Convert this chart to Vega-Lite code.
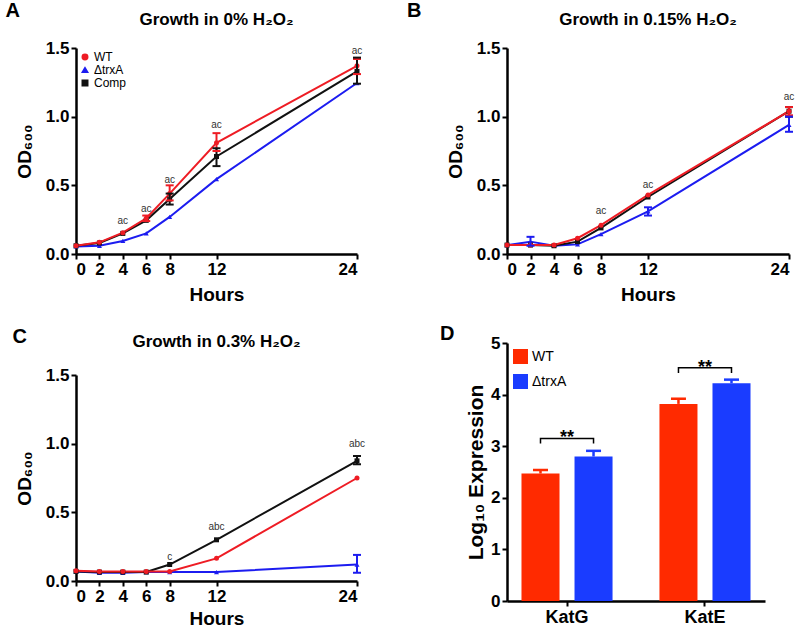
{
  "$schema": "https://vega.github.io/schema/vega-lite/v6.json",
  "padding": {"left": 5, "top": 0, "right": 0, "bottom": 0},
  "background": "white",
  "config": {
    "font": "Liberation Sans",
    "view": {"stroke": null},
    "axis": {
      "grid": false, "domainColor": "black", "domainWidth": 2.5, "tickColor": "black", "tickWidth": 2, "tickSize": 5,
      "labelFont": "Liberation Sans", "labelFontWeight": "bold", "labelFontSize": 17, "labelColor": "black", "labelPadding": 2,
      "titleFont": "Liberation Sans", "titleFontWeight": "bold", "titleFontSize": 19, "titleColor": "black"
    },
    "axisX": {"titlePadding": 8},
    "title": {"font": "Liberation Sans", "fontWeight": "bold", "fontSize": 15, "color": "black", "offset": 14},
    "legend": {"labelFont": "Liberation Sans", "labelColor": "black"}
  },
  "datasets": {
    "growth": [
      {"p": "A", "s": "ΔtrxA", "h": 0, "od": 0.055}, {"p": "A", "s": "ΔtrxA", "h": 2, "od": 0.06}, {"p": "A", "s": "ΔtrxA", "h": 4, "od": 0.095}, {"p": "A", "s": "ΔtrxA", "h": 6, "od": 0.15}, {"p": "A", "s": "ΔtrxA", "h": 8, "od": 0.27}, {"p": "A", "s": "ΔtrxA", "h": 12, "od": 0.545}, {"p": "A", "s": "ΔtrxA", "h": 24, "od": 1.245},
      {"p": "A", "s": "Comp", "h": 0, "od": 0.06}, {"p": "A", "s": "Comp", "h": 2, "od": 0.08}, {"p": "A", "s": "Comp", "h": 4, "od": 0.15}, {"p": "A", "s": "Comp", "h": 6, "od": 0.245}, {"p": "A", "s": "Comp", "h": 8, "od": 0.40}, {"p": "A", "s": "Comp", "h": 12, "od": 0.71}, {"p": "A", "s": "Comp", "h": 24, "od": 1.33},
      {"p": "A", "s": "WT", "h": 0, "od": 0.06}, {"p": "A", "s": "WT", "h": 2, "od": 0.085}, {"p": "A", "s": "WT", "h": 4, "od": 0.155}, {"p": "A", "s": "WT", "h": 6, "od": 0.26}, {"p": "A", "s": "WT", "h": 8, "od": 0.44}, {"p": "A", "s": "WT", "h": 12, "od": 0.81}, {"p": "A", "s": "WT", "h": 24, "od": 1.37},
      {"p": "B", "s": "ΔtrxA", "h": 0, "od": 0.065}, {"p": "B", "s": "ΔtrxA", "h": 2, "od": 0.09}, {"p": "B", "s": "ΔtrxA", "h": 4, "od": 0.06}, {"p": "B", "s": "ΔtrxA", "h": 6, "od": 0.07}, {"p": "B", "s": "ΔtrxA", "h": 8, "od": 0.145}, {"p": "B", "s": "ΔtrxA", "h": 12, "od": 0.31}, {"p": "B", "s": "ΔtrxA", "h": 24, "od": 0.94},
      {"p": "B", "s": "Comp", "h": 0, "od": 0.065}, {"p": "B", "s": "Comp", "h": 2, "od": 0.065}, {"p": "B", "s": "Comp", "h": 4, "od": 0.06}, {"p": "B", "s": "Comp", "h": 6, "od": 0.09}, {"p": "B", "s": "Comp", "h": 8, "od": 0.19}, {"p": "B", "s": "Comp", "h": 12, "od": 0.415}, {"p": "B", "s": "Comp", "h": 24, "od": 1.04},
      {"p": "B", "s": "WT", "h": 0, "od": 0.065}, {"p": "B", "s": "WT", "h": 2, "od": 0.065}, {"p": "B", "s": "WT", "h": 4, "od": 0.065}, {"p": "B", "s": "WT", "h": 6, "od": 0.115}, {"p": "B", "s": "WT", "h": 8, "od": 0.21}, {"p": "B", "s": "WT", "h": 12, "od": 0.43}, {"p": "B", "s": "WT", "h": 24, "od": 1.04},
      {"p": "C", "s": "ΔtrxA", "h": 0, "od": 0.07}, {"p": "C", "s": "ΔtrxA", "h": 2, "od": 0.06}, {"p": "C", "s": "ΔtrxA", "h": 4, "od": 0.06}, {"p": "C", "s": "ΔtrxA", "h": 6, "od": 0.065}, {"p": "C", "s": "ΔtrxA", "h": 8, "od": 0.065}, {"p": "C", "s": "ΔtrxA", "h": 12, "od": 0.065}, {"p": "C", "s": "ΔtrxA", "h": 24, "od": 0.12},
      {"p": "C", "s": "Comp", "h": 0, "od": 0.07}, {"p": "C", "s": "Comp", "h": 2, "od": 0.065}, {"p": "C", "s": "Comp", "h": 4, "od": 0.065}, {"p": "C", "s": "Comp", "h": 6, "od": 0.065}, {"p": "C", "s": "Comp", "h": 8, "od": 0.12}, {"p": "C", "s": "Comp", "h": 12, "od": 0.30}, {"p": "C", "s": "Comp", "h": 24, "od": 0.875},
      {"p": "C", "s": "WT", "h": 0, "od": 0.075}, {"p": "C", "s": "WT", "h": 2, "od": 0.07}, {"p": "C", "s": "WT", "h": 4, "od": 0.07}, {"p": "C", "s": "WT", "h": 6, "od": 0.07}, {"p": "C", "s": "WT", "h": 8, "od": 0.07}, {"p": "C", "s": "WT", "h": 12, "od": 0.165}, {"p": "C", "s": "WT", "h": 24, "od": 0.75}
    ],
    "err": [
      {"p": "A", "s": "WT", "h": 6, "lo": 0.24, "hi": 0.28}, {"p": "A", "s": "WT", "h": 8, "lo": 0.39, "hi": 0.50}, {"p": "A", "s": "WT", "h": 12, "lo": 0.75, "hi": 0.88}, {"p": "A", "s": "WT", "h": 24, "lo": 1.31, "hi": 1.42},
      {"p": "A", "s": "Comp", "h": 8, "lo": 0.36, "hi": 0.44}, {"p": "A", "s": "Comp", "h": 12, "lo": 0.64, "hi": 0.77}, {"p": "A", "s": "Comp", "h": 24, "lo": 1.24, "hi": 1.43},
      {"p": "B", "s": "ΔtrxA", "h": 2, "lo": 0.06, "hi": 0.125}, {"p": "B", "s": "ΔtrxA", "h": 12, "lo": 0.28, "hi": 0.34}, {"p": "B", "s": "ΔtrxA", "h": 24, "lo": 0.89, "hi": 1.0},
      {"p": "B", "s": "Comp", "h": 24, "lo": 1.0, "hi": 1.07}, {"p": "B", "s": "WT", "h": 24, "lo": 1.01, "hi": 1.07},
      {"p": "C", "s": "Comp", "h": 24, "lo": 0.85, "hi": 0.91}, {"p": "C", "s": "ΔtrxA", "h": 24, "lo": 0.06, "hi": 0.19}
    ],
    "ann": [
      {"p": "A", "h": 4, "y": 0.24, "t": "ac"}, {"p": "A", "h": 6, "y": 0.33, "t": "ac"}, {"p": "A", "h": 8, "y": 0.54, "t": "ac"}, {"p": "A", "h": 12, "y": 0.94, "t": "ac"}, {"p": "A", "h": 24, "y": 1.475, "t": "ac"},
      {"p": "B", "h": 8, "y": 0.31, "t": "ac"}, {"p": "B", "h": 12, "y": 0.50, "t": "ac"}, {"p": "B", "h": 24, "y": 1.14, "t": "ac"},
      {"p": "C", "h": 8, "y": 0.175, "t": "c"}, {"p": "C", "h": 12, "y": 0.39, "t": "abc"}, {"p": "C", "h": 24, "y": 0.995, "t": "abc"}
    ],
    "letters": [
      {"p": "A", "h": -5.4, "y": 1.77, "t": "A"}, {"p": "B", "h": -7.9, "y": 1.77, "t": "B"}, {"p": "C", "h": -4.8, "y": 1.78, "t": "C"}
    ],
    "titles": [
      {"p": "A", "h": 12, "y": 1.705, "t": "Growth in 0% H₂O₂"}, {"p": "B", "h": 12, "y": 1.705, "t": "Growth in 0.15% H₂O₂"}, {"p": "C", "h": 12, "y": 1.74, "t": "Growth in 0.3% H₂O₂"}
    ],
    "bars": [
      {"g": "KatG", "s": "WT", "v": 2.47, "hi": 2.54}, {"g": "KatG", "s": "ΔtrxA", "v": 2.80, "hi": 2.91},
      {"g": "KatE", "s": "WT", "v": 3.82, "hi": 3.92}, {"g": "KatE", "s": "ΔtrxA", "v": 4.22, "hi": 4.29}
    ],
    "brackets": [
      {"g": "KatG", "s": "WT", "y": 3.05, "o": 1}, {"g": "KatG", "s": "WT", "y": 3.15, "o": 2}, {"g": "KatG", "s": "ΔtrxA", "y": 3.15, "o": 3}, {"g": "KatG", "s": "ΔtrxA", "y": 3.05, "o": 4},
      {"g": "KatE", "s": "WT", "y": 4.42, "o": 1}, {"g": "KatE", "s": "WT", "y": 4.52, "o": 2}, {"g": "KatE", "s": "ΔtrxA", "y": 4.52, "o": 3}, {"g": "KatE", "s": "ΔtrxA", "y": 4.42, "o": 4}
    ],
    "stars": [{"g": "KatG", "y": 3.06, "t": "**"}, {"g": "KatE", "y": 4.42, "t": "**"}]
  },
  "bounds": "full",
  "spacing": 40,
  "resolve": {"scale": {"color": "independent", "shape": "independent", "x": "independent", "y": "independent"}},
  "hconcat": [
    {
      "bounds": "flush",
      "spacing": 121,
      "resolve": {"scale": {"color": "independent", "shape": "independent", "x": "independent", "y": "independent"}},
      "vconcat": [
        {
          "width": 281, "height": 206,
          "layer": [
            {"data": {"name": "growth"}, "transform": [{"filter": "datum.p === 'A'"}],
             "mark": {"type": "line", "strokeWidth": 2},
             "encoding": {
               "x": {"field": "h", "type": "quantitative", "scale": {"domain": [0, 24], "nice": false}, "axis": {"values": [0, 2, 4, 6, 8, 12, 24], "title": "Hours"}},
               "y": {"field": "od", "type": "quantitative", "scale": {"domain": [0, 1.5], "nice": false}, "axis": {"values": [0, 0.5, 1, 1.5], "format": ".1f", "title": "OD₆₀₀", "titlePadding": 11}},
               "color": {"field": "s", "type": "nominal", "scale": {"domain": ["WT", "ΔtrxA", "Comp"], "range": ["#ee1c24", "#1c1cf0", "#111111"]}, "legend": {"title": null, "orient": "top-left", "offset": 3, "padding": 0, "labelFontSize": 12, "symbolSize": 30, "rowPadding": 1, "labelOffset": 3, "symbolOpacity": 1}},
               "detail": {"field": "s"}
             }},
            {"data": {"name": "growth"}, "transform": [{"filter": "datum.p === 'A'"}],
             "mark": {"type": "point", "filled": true, "opacity": 1, "size": 25},
             "encoding": {
               "x": {"field": "h", "type": "quantitative"},
               "y": {"field": "od", "type": "quantitative"},
               "color": {"field": "s", "type": "nominal"},
               "shape": {"field": "s", "type": "nominal", "scale": {"domain": ["WT", "ΔtrxA", "Comp"], "range": ["circle", "triangle-up", "square"]}, "legend": {"title": null, "orient": "top-left"}}
             }},
            {"data": {"name": "err"}, "transform": [{"filter": "datum.p === 'A'"}],
             "mark": {"type": "rule", "strokeWidth": 2},
             "encoding": {"x": {"field": "h", "type": "quantitative"}, "y": {"field": "lo", "type": "quantitative"}, "y2": {"field": "hi"}, "color": {"field": "s", "type": "nominal"}}},
            {"data": {"name": "err"}, "transform": [{"filter": "datum.p === 'A'"}],
             "mark": {"type": "tick", "orient": "horizontal", "size": 8, "thickness": 2, "opacity": 1},
             "encoding": {"x": {"field": "h", "type": "quantitative"}, "y": {"field": "lo", "type": "quantitative"}, "color": {"field": "s", "type": "nominal"}}},
            {"data": {"name": "err"}, "transform": [{"filter": "datum.p === 'A'"}],
             "mark": {"type": "tick", "orient": "horizontal", "size": 8, "thickness": 2, "opacity": 1},
             "encoding": {"x": {"field": "h", "type": "quantitative"}, "y": {"field": "hi", "type": "quantitative"}, "color": {"field": "s", "type": "nominal"}}},
            {"data": {"name": "ann"}, "transform": [{"filter": "datum.p === 'A'"}],
             "mark": {"type": "text", "fontSize": 10, "color": "#333333", "baseline": "middle"},
             "encoding": {"x": {"field": "h", "type": "quantitative"}, "y": {"field": "y", "type": "quantitative"}, "text": {"field": "t"}}},
            {"data": {"name": "letters"}, "transform": [{"filter": "datum.p === 'A'"}],
             "mark": {"type": "text", "fontSize": 20, "fontWeight": "bold", "color": "black", "baseline": "middle"},
             "encoding": {"x": {"field": "h", "type": "quantitative"}, "y": {"field": "y", "type": "quantitative"}, "text": {"field": "t"}}},
            {"data": {"name": "titles"}, "transform": [{"filter": "datum.p === 'A'"}],
             "mark": {"type": "text", "fontSize": 17, "fontWeight": "bold", "color": "black", "baseline": "middle"},
             "encoding": {"x": {"field": "h", "type": "quantitative"}, "y": {"field": "y", "type": "quantitative"}, "text": {"field": "t"}}}
          ]
        },
        {
          "width": 281, "height": 206,
          "layer": [
            {"data": {"name": "growth"}, "transform": [{"filter": "datum.p === 'C'"}],
             "mark": {"type": "line", "strokeWidth": 2},
             "encoding": {
               "x": {"field": "h", "type": "quantitative", "scale": {"domain": [0, 24], "nice": false}, "axis": {"values": [0, 2, 4, 6, 8, 12, 24], "title": "Hours", "titlePadding": 5}},
               "y": {"field": "od", "type": "quantitative", "scale": {"domain": [0, 1.5], "nice": false}, "axis": {"values": [0, 0.5, 1, 1.5], "format": ".1f", "title": "OD₆₀₀", "titlePadding": 11}},
               "color": {"field": "s", "type": "nominal", "scale": {"domain": ["WT", "ΔtrxA", "Comp"], "range": ["#ee1c24", "#1c1cf0", "#111111"]}, "legend": null},
               "detail": {"field": "s"}
             }},
            {"data": {"name": "growth"}, "transform": [{"filter": "datum.p === 'C'"}],
             "mark": {"type": "point", "filled": true, "opacity": 1, "size": 25},
             "encoding": {
               "x": {"field": "h", "type": "quantitative"},
               "y": {"field": "od", "type": "quantitative"},
               "color": {"field": "s", "type": "nominal", "legend": null},
               "shape": {"field": "s", "type": "nominal", "scale": {"domain": ["WT", "ΔtrxA", "Comp"], "range": ["circle", "triangle-up", "square"]}, "legend": null}
             }},
            {"data": {"name": "err"}, "transform": [{"filter": "datum.p === 'C'"}],
             "mark": {"type": "rule", "strokeWidth": 2},
             "encoding": {"x": {"field": "h", "type": "quantitative"}, "y": {"field": "lo", "type": "quantitative"}, "y2": {"field": "hi"}, "color": {"field": "s", "type": "nominal", "legend": null}}},
            {"data": {"name": "err"}, "transform": [{"filter": "datum.p === 'C'"}],
             "mark": {"type": "tick", "orient": "horizontal", "size": 8, "thickness": 2, "opacity": 1},
             "encoding": {"x": {"field": "h", "type": "quantitative"}, "y": {"field": "lo", "type": "quantitative"}, "color": {"field": "s", "type": "nominal", "legend": null}}},
            {"data": {"name": "err"}, "transform": [{"filter": "datum.p === 'C'"}],
             "mark": {"type": "tick", "orient": "horizontal", "size": 8, "thickness": 2, "opacity": 1},
             "encoding": {"x": {"field": "h", "type": "quantitative"}, "y": {"field": "hi", "type": "quantitative"}, "color": {"field": "s", "type": "nominal", "legend": null}}},
            {"data": {"name": "ann"}, "transform": [{"filter": "datum.p === 'C'"}],
             "mark": {"type": "text", "fontSize": 10, "color": "#333333", "baseline": "middle"},
             "encoding": {"x": {"field": "h", "type": "quantitative"}, "y": {"field": "y", "type": "quantitative"}, "text": {"field": "t"}}},
            {"data": {"name": "letters"}, "transform": [{"filter": "datum.p === 'C'"}],
             "mark": {"type": "text", "fontSize": 20, "fontWeight": "bold", "color": "black", "baseline": "middle"},
             "encoding": {"x": {"field": "h", "type": "quantitative"}, "y": {"field": "y", "type": "quantitative"}, "text": {"field": "t"}}},
            {"data": {"name": "titles"}, "transform": [{"filter": "datum.p === 'C'"}],
             "mark": {"type": "text", "fontSize": 17, "fontWeight": "bold", "color": "black", "baseline": "middle"},
             "encoding": {"x": {"field": "h", "type": "quantitative"}, "y": {"field": "y", "type": "quantitative"}, "text": {"field": "t"}}}
          ]
        }
      ]
    },
    {
      "bounds": "flush",
      "spacing": 89,
      "resolve": {"scale": {"color": "independent", "shape": "independent", "x": "independent", "y": "independent"}},
      "vconcat": [
        {
          "width": 282, "height": 206,
          "layer": [
            {"data": {"name": "growth"}, "transform": [{"filter": "datum.p === 'B'"}],
             "mark": {"type": "line", "strokeWidth": 2},
             "encoding": {
               "x": {"field": "h", "type": "quantitative", "scale": {"domain": [0, 24], "nice": false}, "axis": {"values": [0, 2, 4, 6, 8, 12, 24], "title": "Hours"}},
               "y": {"field": "od", "type": "quantitative", "scale": {"domain": [0, 1.5], "nice": false}, "axis": {"values": [0, 0.5, 1, 1.5], "format": ".1f", "title": "OD₆₀₀", "titlePadding": 11}},
               "color": {"field": "s", "type": "nominal", "scale": {"domain": ["WT", "ΔtrxA", "Comp"], "range": ["#ee1c24", "#1c1cf0", "#111111"]}, "legend": null},
               "detail": {"field": "s"}
             }},
            {"data": {"name": "growth"}, "transform": [{"filter": "datum.p === 'B'"}],
             "mark": {"type": "point", "filled": true, "opacity": 1, "size": 25},
             "encoding": {
               "x": {"field": "h", "type": "quantitative"},
               "y": {"field": "od", "type": "quantitative"},
               "color": {"field": "s", "type": "nominal", "legend": null},
               "shape": {"field": "s", "type": "nominal", "scale": {"domain": ["WT", "ΔtrxA", "Comp"], "range": ["circle", "triangle-up", "square"]}, "legend": null}
             }},
            {"data": {"name": "err"}, "transform": [{"filter": "datum.p === 'B'"}],
             "mark": {"type": "rule", "strokeWidth": 2},
             "encoding": {"x": {"field": "h", "type": "quantitative"}, "y": {"field": "lo", "type": "quantitative"}, "y2": {"field": "hi"}, "color": {"field": "s", "type": "nominal", "legend": null}}},
            {"data": {"name": "err"}, "transform": [{"filter": "datum.p === 'B'"}],
             "mark": {"type": "tick", "orient": "horizontal", "size": 8, "thickness": 2, "opacity": 1},
             "encoding": {"x": {"field": "h", "type": "quantitative"}, "y": {"field": "lo", "type": "quantitative"}, "color": {"field": "s", "type": "nominal", "legend": null}}},
            {"data": {"name": "err"}, "transform": [{"filter": "datum.p === 'B'"}],
             "mark": {"type": "tick", "orient": "horizontal", "size": 8, "thickness": 2, "opacity": 1},
             "encoding": {"x": {"field": "h", "type": "quantitative"}, "y": {"field": "hi", "type": "quantitative"}, "color": {"field": "s", "type": "nominal", "legend": null}}},
            {"data": {"name": "ann"}, "transform": [{"filter": "datum.p === 'B'"}],
             "mark": {"type": "text", "fontSize": 10, "color": "#333333", "baseline": "middle"},
             "encoding": {"x": {"field": "h", "type": "quantitative"}, "y": {"field": "y", "type": "quantitative"}, "text": {"field": "t"}}},
            {"data": {"name": "letters"}, "transform": [{"filter": "datum.p === 'B'"}],
             "mark": {"type": "text", "fontSize": 20, "fontWeight": "bold", "color": "black", "baseline": "middle"},
             "encoding": {"x": {"field": "h", "type": "quantitative"}, "y": {"field": "y", "type": "quantitative"}, "text": {"field": "t"}}},
            {"data": {"name": "titles"}, "transform": [{"filter": "datum.p === 'B'"}],
             "mark": {"type": "text", "fontSize": 17, "fontWeight": "bold", "color": "black", "baseline": "middle"},
             "encoding": {"x": {"field": "h", "type": "quantitative"}, "y": {"field": "y", "type": "quantitative"}, "text": {"field": "t"}}}
          ]
        },
        {
          "width": 258, "height": 258,
          "title": {"text": "D", "anchor": "start", "frame": "group", "dx": -67, "fontSize": 20, "offset": -10},
          "layer": [
            {"data": {"name": "bars"},
             "mark": {"type": "bar"},
             "encoding": {
               "x": {"field": "g", "type": "nominal", "sort": ["KatG", "KatE"], "scale": {"paddingInner": 0.34, "paddingOuter": 0.105}, "axis": {"title": null, "labelAngle": 0, "bandPosition": 0.5, "labelFontSize": 18}},
               "xOffset": {"field": "s", "type": "nominal", "sort": ["WT", "ΔtrxA"], "scale": {"paddingInner": 0.283, "paddingOuter": 0}},
               "y": {"field": "v", "type": "quantitative", "scale": {"domain": [0, 5], "nice": false}, "axis": {"values": [0, 1, 2, 3, 4, 5], "title": "Log₁₀ Expression", "titleFontSize": 21}},
               "color": {"field": "s", "type": "nominal", "scale": {"domain": ["WT", "ΔtrxA"], "range": ["#ff2a00", "#1a3cff"]}, "legend": {"title": null, "orient": "top-left", "offset": 6, "padding": 0, "symbolType": "square", "symbolSize": 225, "symbolOpacity": 1, "symbolStrokeWidth": 0, "labelFontSize": 14, "rowPadding": 10, "labelOffset": 4, "encode": {"symbols": {"update": {"opacity": {"value": 1}, "fillOpacity": {"value": 1}, "strokeOpacity": {"value": 0}}}}}}
             }},
            {"data": {"name": "bars"},
             "mark": {"type": "rule", "strokeWidth": 2.5},
             "encoding": {
               "x": {"field": "g", "type": "nominal", "sort": ["KatG", "KatE"]},
               "xOffset": {"field": "s", "type": "nominal", "sort": ["WT", "ΔtrxA"]},
               "y": {"field": "v", "type": "quantitative"}, "y2": {"field": "hi"},
               "color": {"field": "s", "type": "nominal"}
             }},
            {"data": {"name": "bars"},
             "mark": {"type": "tick", "orient": "horizontal", "size": 15, "thickness": 2.5, "opacity": 1},
             "encoding": {
               "x": {"field": "g", "type": "nominal", "sort": ["KatG", "KatE"]},
               "xOffset": {"field": "s", "type": "nominal", "sort": ["WT", "ΔtrxA"]},
               "y": {"field": "hi", "type": "quantitative"},
               "color": {"field": "s", "type": "nominal"}
             }},
            {"data": {"name": "brackets"},
             "mark": {"type": "line", "color": "black", "strokeWidth": 1.5},
             "encoding": {
               "x": {"field": "g", "type": "nominal", "sort": ["KatG", "KatE"]},
               "xOffset": {"field": "s", "type": "nominal", "sort": ["WT", "ΔtrxA"]},
               "y": {"field": "y", "type": "quantitative"},
               "detail": {"field": "g"},
               "order": {"field": "o"}
             }},
            {"data": {"name": "stars"},
             "mark": {"type": "text", "fontSize": 18, "fontWeight": "bold", "color": "black", "baseline": "alphabetic"},
             "encoding": {
               "x": {"field": "g", "type": "nominal", "sort": ["KatG", "KatE"]},
               "y": {"field": "y", "type": "quantitative"},
               "text": {"field": "t"}
             }}
          ]
        }
      ]
    }
  ]
}
